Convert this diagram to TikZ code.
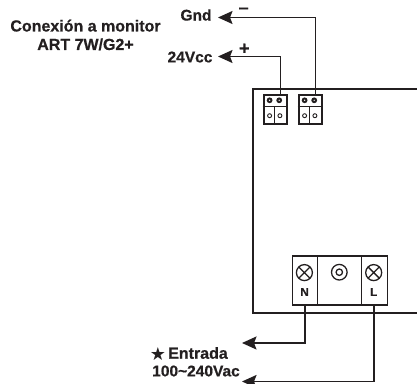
\documentclass[tikz,border=0pt]{standalone}
\usepackage{fontspec}
\setmainfont[BoldFeatures={FakeBold=0.6}]{Liberation Sans}
\usetikzlibrary{arrows.meta}
\definecolor{ink}{HTML}{231F20}
\tikzset{
  x=1pt,y=-1pt,
  wire/.style={draw=ink,line width=1.7pt,line join=miter},
  arrowwire/.style={wire,-{Stealth[length=14.5pt,width=13pt,inset=2.5pt]}},
  frame/.style={draw=ink,line width=1.6pt},
  termbox/.style={draw=ink,line width=2.1pt,fill=white},
  blockbox/.style={draw=ink,line width=1.6pt},
  lbl/.style={font=\bfseries\fontsize{#1}{#1}\selectfont,text=ink,inner sep=0pt,align=center},
  lbl/.default=15.5
}
\newcommand{\xcircle}[2]{%
  \draw[draw=ink,line width=1.3pt] (#1,#2) circle[radius=8pt];
  \draw[draw=ink,line width=1.3pt] (#1-5.7,#2-5.7) -- (#1+5.7,#2+5.7) (#1-5.7,#2+5.7) -- (#1+5.7,#2-5.7);}
\newcommand{\smallterm}[2]{%
  \node[termbox,minimum width=23pt,minimum height=28.5pt,inner sep=0pt,anchor=north west] (#2) at (#1,94) {};
  \draw[draw=ink,line width=1.2pt] (#1,106.7) -- (#1+23,106.7) (#1+11.5,106.7) -- (#1+11.5,122.5);
  \fill[ink] (#1+6.9,100.3) circle[radius=2.9pt] (#1+16.5,100.3) circle[radius=2.9pt];
  \fill[white] (#1+6.9,100.3) circle[radius=0.7pt] (#1+16.5,100.3) circle[radius=0.7pt];
  \draw[draw=ink,line width=.9pt] (#1+6.9,115.7) circle[radius=2pt] (#1+17.2,115.7) circle[radius=2pt];}
\begin{document}
\begin{tikzpicture}
\useasboundingbox (0,0) rectangle (417,383);
\draw[frame] (417,89) -- (252.7,89) -- (252.7,312.7) -- (417,312.7);
\smallterm{262.7}{tA}
\smallterm{297.7}{tB}
\coordinate (pA) at (280.6,94);
\coordinate (pB) at (315.4,94);
\coordinate (gndTip) at (218,17.5);
\coordinate (vccTip) at (218,56.5);
\draw[arrowwire] (pB) |- (gndTip);
\draw[arrowwire] (pA) |- (vccTip);
% mains block
\node[blockbox,minimum width=95pt,minimum height=48.7pt,inner sep=0pt,anchor=north west] (main) at (291.7,255.3) {};
\draw[blockbox] (317.3,255.3) -- (317.3,304) (361.3,255.3) -- (361.3,304);
\xcircle{304.4}{272.6}
\xcircle{373.7}{272.6}
\draw[draw=ink,line width=1.3pt] (339.3,272.2) circle[radius=7.8pt] (339.3,272.2) circle[radius=3.2pt];
\node[lbl=11.5] (nL) at (304.6,292) {N};
\node[lbl=11.5] (lL) at (373.6,292) {L};
\coordinate (pN) at (304.7,304);
\coordinate (pL) at (373.7,304);
\coordinate (nTip) at (242,343);
\coordinate (lTip) at (242,381.5);
\draw[arrowwire] (pN) |- (nTip);
\draw[arrowwire] (pL) |- (lTip);
% labels
\node[lbl=15.5] (gnd) at (196,15) {Gnd};
\node[lbl=15.5] (vcc) at (190,57) {24Vcc};
\node[lbl=18] (plus) at (244.3,49) {+};
\node[lbl=18] (minus) at (243.7,10.5) {\textendash};
\node[lbl=16,align=center] (conn) at (85.5,35) {Conexión a monitor\\[2.5pt]ART 7W/G2+};
\node[lbl=16,anchor=west] (ent) at (168,353) {Entrada};
\node[lbl=15.5] (volt) at (196,371) {100\char`\~240Vac};
\node[font=\fontsize{18}{18}\selectfont,text=ink,inner sep=0pt] (star) at (158,354) {\fontspec{DejaVu Sans}★};
\end{tikzpicture}
\end{document}
